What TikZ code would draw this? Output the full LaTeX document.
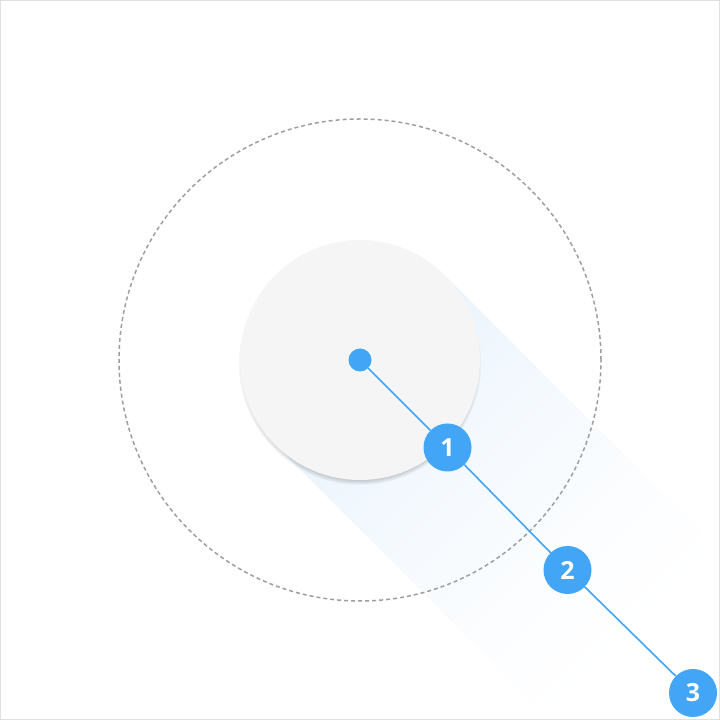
\documentclass[tikz,border=0pt]{standalone}
\usepackage{fontspec}
\setsansfont{Open Sans}
\definecolor{pinblue}{HTML}{42A5F5}
\definecolor{discgray}{HTML}{F5F5F5}
\definecolor{ringgray}{HTML}{9E9E9E}
\definecolor{longshade}{HTML}{EAF4FD}
\definecolor{framegray}{HTML}{E0E0E0}
\begin{document}
\begin{tikzpicture}[x=1pt, y=1pt]
\tikzstyle{badge}=[circle, fill=pinblue, text=white, minimum size=48pt, inner sep=0pt, font=\sffamily\bfseries\fontsize{25}{25}\selectfont]

\useasboundingbox (0,0) rectangle (720,720);

% long shadow, faded in strips
\begin{scope}[shift={(360,360)}, rotate=-45]
\clip (-360,-360) rectangle (400,400);
\foreach \i in {0,...,79}
  \fill[longshade!\fpeval{100*(1-\i/80)^1.4}!white] (\i*5,-120) rectangle (\i*5+5.6,120);
\end{scope}

\draw[ringgray, line width=1.5pt, dash pattern=on 4pt off 3pt] (360,360) circle (241);

% soft shadow under the disc
\foreach \k in {1,...,6}
  \fill[black, opacity=0.035] (360,356) circle (115+\k);

\node[circle, fill=discgray, minimum size=240pt, inner sep=0pt] (disc) at (360,360) {};

\node[circle, fill=pinblue, minimum size=23pt, inner sep=0pt] (pin) at (360,360) {};

\draw[framegray, line width=1pt] (0.5,0.5) rectangle (719.5,719.5);

\node[badge] (one) at (447.5,272.5) {1};
\node[badge] (two) at (567.5,150) {2};
\node[badge] (three) at (693,27) {3};

\draw[pinblue, line width=1.6pt] (pin) -- (one);
\draw[pinblue, line width=1.6pt] (one) -- (two);
\draw[pinblue, line width=1.6pt] (two) -- (three);

\end{tikzpicture}
\end{document}
